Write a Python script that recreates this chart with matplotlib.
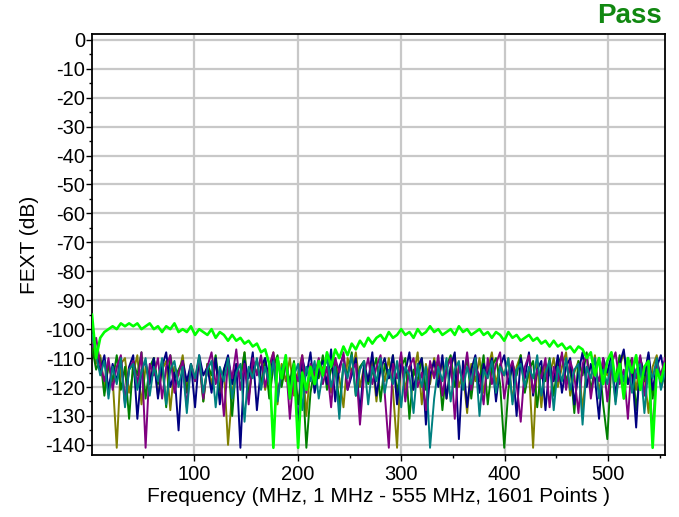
import numpy as np
import matplotlib
matplotlib.use("Agg")
import matplotlib.pyplot as plt
from matplotlib.ticker import MultipleLocator

plt.rcParams['font.family'] = ['Liberation Sans', 'DejaVu Sans']

# 1601-point sweep at ~4 MHz resolution
f_start, f_stop = 1, 555

# bright green pair (the one that passes near the upper band)
lime = [
    -95, -110, -103, -101, -100, -99, -100, -98, -99, -98, -99, -98, -100, -99,
    -98, -100, -99, -101, -99, -100, -98, -101, -100, -101, -99, -102, -100, -101,
    -102, -100, -103, -101, -102, -104, -102, -104, -103, -105, -104, -106, -105, -108,
    -107, -112, -141, -110, -117, -109, -124, -112, -141, -115, -121, -113, -119, -111,
    -116, -108, -113, -107, -110, -106, -109, -105, -107, -104, -106, -103, -105, -103,
    -102, -104, -101, -103, -102, -100, -102, -101, -103, -100, -102, -101, -99, -101,
    -100, -102, -101, -100, -102, -99, -101, -100, -102, -101, -100, -102, -101, -103,
    -101, -102, -104, -101, -103, -102, -104, -103, -102, -104, -103, -105, -104, -106,
    -104, -106, -105, -107, -106, -108, -106, -107, -110, -108, -116, -110, -119, -111,
    -108, -118, -112, -124, -110, -115, -109, -121, -113, -111, -141, -114, -118, -112,
]

purple = [
    -106, -103, -112, -118, -110, -121, -113, -109, -125, -114, -111, -119, -108, -141,
    -112, -116, -110, -124, -113, -109, -122, -115, -111, -127, -112, -118, -110, -124,
    -113, -108, -119, -114, -130, -111, -117, -107, -121, -112, -126, -110, -116, -109,
    -120, -113, -108, -123, -115, -111, -131, -114, -118, -109, -122, -112, -116, -110,
    -119, -113, -127, -110, -115, -108, -121, -114, -112, -133, -116, -110, -119, -113,
    -109, -122, -141, -112, -117, -108, -125, -113, -110, -120, -115, -128, -111, -117,
    -109, -123, -114, -110, -131, -112, -118, -108, -121, -113, -116, -126, -110, -119,
    -112, -108, -124, -115, -111, -119, -132, -113, -109, -122, -114, -117, -110, -127,
    -113, -118, -108, -121, -111, -116, -129, -112, -109, -124, -114, -118, -110, -125,
    -112, -108, -119, -114, -131, -110, -117, -109, -123, -112, -137, -111, -116, -110,
]

navy = [
    -100, -108, -115, -109, -121, -112, -118, -110, -126, -113, -109, -131, -114, -111,
    -119, -110, -124, -113, -108, -120, -115, -135, -111, -118, -112, -127, -109, -116,
    -113, -122, -110, -126, -114, -109, -119, -112, -141, -111, -117, -108, -128, -113,
    -110, -118, -109, -123, -115, -111, -120, -113, -134, -110, -116, -108, -122, -114,
    -111, -119, -107, -125, -113, -109, -121, -116, -110, -129, -112, -118, -108, -123,
    -114, -110, -117, -109, -126, -112, -115, -108, -121, -113, -110, -133, -116, -111,
    -120, -109, -124, -113, -108, -138, -111, -127, -114, -109, -122, -112, -116, -110,
    -125, -113, -109, -119, -112, -130, -110, -117, -108, -123, -114, -111, -128, -112,
    -118, -109, -122, -113, -110, -126, -115, -108, -120, -112, -117, -131, -110, -115,
    -109, -123, -112, -107, -119, -114, -134, -110, -116, -108, -121, -113, -109, -117,
]

olive = [
    -104, -112, -109, -120, -113, -117, -141, -112, -110, -122, -115, -109, -126, -113,
    -118, -110, -123, -114, -111, -128, -113, -116, -109, -121, -112, -117, -110, -125,
    -112, -119, -111, -124, -114, -140, -122, -113, -117, -108, -124, -112, -115, -110,
    -121, -113, -108, -126, -112, -118, -110, -123, -115, -109, -130, -113, -117, -111,
    -114, -109, -122, -112, -117, -127, -110, -115, -108, -120, -113, -118, -111, -125,
    -112, -118, -110, -121, -141, -109, -121, -113, -116, -108, -126, -112, -119, -110,
    -117, -111, -124, -113, -109, -120, -115, -129, -112, -118, -110, -122, -114, -108,
    -119, -112, -116, -110, -125, -113, -109, -121, -114, -141, -111, -127, -112, -116,
    -110, -120, -113, -108, -123, -115, -111, -128, -113, -117, -109, -122, -112, -116,
    -111, -125, -113, -108, -119, -112, -121, -110, -116, -129, -113, -109, -120, -114,
]

green = [
    -106, -114, -110, -123, -112, -118, -109, -121, -113, -131, -111, -116, -108, -124,
    -113, -110, -119, -112, -127, -109, -117, -114, -111, -122, -113, -118, -110, -125,
    -112, -116, -109, -121, -114, -110, -130, -112, -117, -108, -123, -113, -111, -119,
    -110, -124, -113, -109, -120, -112, -118, -111, -126, -114, -141, -122, -113, -117,
    -109, -121, -114, -110, -127, -112, -116, -108, -123, -113, -111, -119, -115, -110,
    -125, -112, -117, -109, -122, -113, -110, -131, -114, -118, -110, -121, -112, -116,
    -111, -128, -113, -109, -120, -114, -117, -110, -124, -112, -118, -109, -126, -113,
    -110, -119, -141, -121, -112, -116, -109, -122, -114, -111, -127, -113, -118, -110,
    -123, -112, -109, -118, -113, -129, -111, -116, -108, -121, -114, -110, -126, -138,
    -112, -117, -109, -122, -113, -110, -128, -114, -118, -109, -124, -112, -116, -111,
]

teal = [
    -102, -109, -116, -111, -124, -113, -119, -110, -127, -114, -112, -121, -115, -110,
    -123, -113, -118, -110, -126, -114, -111, -120, -113, -129, -112, -117, -109, -122,
    -114, -111, -127, -113, -118, -110, -124, -115, -112, -132, -113, -117, -110, -121,
    -113, -119, -111, -125, -114, -110, -122, -116, -112, -128, -113, -118, -111, -124,
    -115, -110, -120, -113, -131, -112, -117, -109, -123, -114, -111, -126, -113, -118,
    -110, -122, -114, -119, -111, -127, -113, -116, -129, -112, -120, -113, -141, -124,
    -113, -118, -110, -125, -114, -111, -121, -113, -119, -110, -130, -114, -117, -111,
    -122, -113, -116, -110, -126, -114, -112, -120, -113, -117, -109, -123, -115, -111,
    -128, -113, -118, -110, -121, -114, -112, -133, -113, -117, -110, -124, -114, -119,
    -111, -126, -113, -118, -110, -122, -114, -112, -129, -113, -117, -110, -121, -115,
]

freq = np.linspace(f_start, f_stop, len(lime))

# (values, colour, line width) in drawing order
traces = [
    (olive, '#808000', 1.4),
    (green, '#008000', 1.4),
    (navy, '#000080', 1.4),
    (purple, '#800080', 1.4),
    (teal, '#008080', 1.4),
    (lime, '#00ff00', 1.9),
]

fig = plt.figure(figsize=(6.79, 5.17), dpi=100)
ax = fig.add_axes([0.1355, 0.1199, 0.8439, 0.8143])

for vals, col, lw in traces:
    ax.plot(freq, vals, color=col, linewidth=lw, zorder=3)

ax.set_xlim(f_start, f_stop)
ax.set_ylim(-143.5, 2.0)

ax.xaxis.set_major_locator(MultipleLocator(100))
ax.xaxis.set_minor_locator(MultipleLocator(50))
ax.yaxis.set_major_locator(MultipleLocator(10))
ax.yaxis.set_minor_locator(MultipleLocator(5))

ax.grid(True, which='major', color='#c8c8c8', linewidth=1.6, zorder=0)
ax.set_axisbelow(True)

ax.tick_params(axis='both', which='major', direction='out', length=4,
               width=1, labelsize=14.5, pad=1, colors='black')
ax.tick_params(axis='both', which='minor', direction='out', length=2.5, width=1)
ax.tick_params(axis='x', which='major', pad=3)
ax.set_yticklabels([f"{int(t)}" for t in ax.get_yticks()])

for sp in ax.spines.values():
    sp.set_color('black')
    sp.set_linewidth(1.3)

ax.set_xlabel('Frequency (MHz, 1 MHz - 555 MHz, 1601 Points )', fontsize=15, labelpad=2)
ax.set_ylabel('FEXT (dB)', fontsize=15, labelpad=4)

fig.text(0.975, 0.955, 'Pass', color='#118811', fontsize=20, fontweight='bold',
         ha='right', va='baseline')

fig.savefig('out.png', dpi=100)
